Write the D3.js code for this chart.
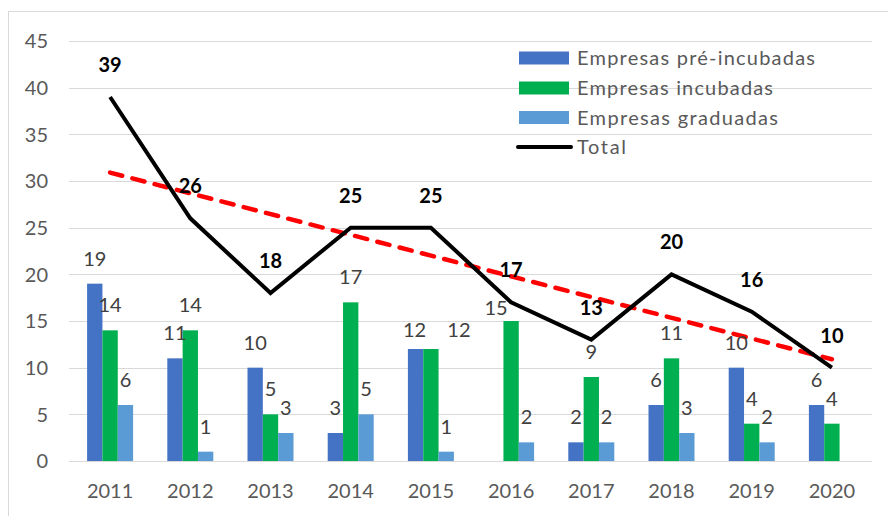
<!DOCTYPE html>
<html>
<head>
<meta charset="utf-8">
<script src="https://cdn.jsdelivr.net/npm/d3@7"></script>
<style>
  body { margin: 0; background: #fff; }
  text { font-family: Lato, "Open Sans", sans-serif; }
</style>
</head>
<body>
<svg id="chart" width="888" height="516"></svg>
<script>
// data
const years = ["2011", "2012", "2013", "2014", "2015", "2016", "2017", "2018", "2019", "2020"];
const preIncubadas = [19, 11, 10, 3, 12, 0, 2, 6, 10, 6];
const incubadas = [14, 14, 5, 17, 12, 15, 9, 11, 4, 4];
const graduadas = [6, 1, 3, 5, 1, 2, 2, 3, 2, 0];
const total = [39, 26, 18, 25, 25, 17, 13, 20, 16, 10];
// trend line end values (2011, 2020)
const trendYears = ["2011", "2020"];
const trendValues = [30.9, 10.9];
const yTicks = [0, 5, 10, 15, 20, 25, 30, 35, 40, 45];

const seriesNames = ["Empresas pré-incubadas", "Empresas incubadas", "Empresas graduadas"];
const seriesColors = ["#4472C4", "#00B050", "#5B9BD5"];
const seriesValues = [preIncubadas, incubadas, graduadas];

// a few labels were moved by hand in the original
const labelNudge = { "0-2015": [-1, 6], "1-2015": [28, 6], "1-2016": [-15, 12] };
const legendWidths = [238, 196, 201, 49];

const svg = d3.select("#chart");

// outer frame (runs off the right and bottom edges)
svg.append("rect")
  .attr("x", 8.5).attr("y", 11.5)
  .attr("width", 900).attr("height", 600)
  .attr("fill", "none")
  .attr("stroke", "#D9D9D9");

const x = d3.scaleBand().domain(years).range([70, 872]).padding(0);
const y = d3.scaleLinear().domain([0, 45]).range([461, 41]);
const groupW = 46;
const x1 = d3.scaleBand().domain(d3.range(3)).range([0, groupW]);
const cx = d => x(d) + x.bandwidth() / 2;

// gridlines
svg.append("g")
  .selectAll("line")
  .data(yTicks)
  .join("line")
  .attr("x1", 69).attr("x2", 872)
  .attr("y1", d => Math.round(y(d)) + 0.5)
  .attr("y2", d => Math.round(y(d)) + 0.5)
  .attr("stroke", "#D9D9D9")
  .attr("stroke-width", 1.2);

// y tick labels
svg.append("g")
  .selectAll("text")
  .data(yTicks)
  .join("text")
  .attr("x", 48)
  .attr("y", d => y(d))
  .attr("dy", "0.36em")
  .attr("text-anchor", "end")
  .attr("font-size", 20)
  .attr("fill", "#595959")
  .text(d => d);

// x labels
svg.append("g")
  .selectAll("text")
  .data(years)
  .join("text")
  .attr("x", d => cx(d))
  .attr("y", 498)
  .attr("text-anchor", "middle")
  .attr("font-size", 20)
  .attr("fill", "#595959")
  .text(d => d);

// bars
const barData = [];
seriesValues.forEach((vals, s) => {
  vals.forEach((v, i) => barData.push({ s, year: years[i], v }));
});

svg.append("g")
  .selectAll("rect")
  .data(barData.filter(d => d.v > 0))
  .join("rect")
  .attr("x", d => cx(d.year) - groupW / 2 + x1(d.s))
  .attr("y", d => y(d.v))
  .attr("width", x1.bandwidth())
  .attr("height", d => y(0) - y(d.v))
  .attr("fill", d => seriesColors[d.s]);

// trend line
svg.append("path")
  .datum(trendYears.map((t, i) => [cx(t), y(trendValues[i])]))
  .attr("d", d3.line())
  .attr("fill", "none")
  .attr("stroke", "#FF0000")
  .attr("stroke-width", 4.5)
  .attr("stroke-linecap", "round")
  .attr("stroke-dasharray", "12.5,10.5");

// total line
svg.append("path")
  .datum(years.map((t, i) => [cx(t), y(total[i])]))
  .attr("d", d3.line())
  .attr("fill", "none")
  .attr("stroke", "#000")
  .attr("stroke-width", 4);

// bar value labels
const nudge = d => labelNudge[d.s + "-" + d.year] || [0, 0];
svg.append("g")
  .selectAll("text")
  .data(barData.filter(d => d.v > 0))
  .join("text")
  .attr("x", d => cx(d.year) - groupW / 2 + x1(d.s) + x1.bandwidth() / 2 + nudge(d)[0])
  .attr("y", d => y(d.v) - 18 + nudge(d)[1])
  .attr("text-anchor", "middle")
  .attr("font-size", 20)
  .attr("fill", "#404040")
  .text(d => d.v);

// total labels
svg.append("g")
  .selectAll("text")
  .data(total)
  .join("text")
  .attr("x", (d, i) => cx(years[i]))
  .attr("y", d => y(d) - 25)
  .attr("text-anchor", "middle")
  .attr("font-size", 20)
  .attr("font-weight", "bold")
  .attr("fill", "#000")
  .text(d => d);

// legend
const legendRows = [58, 88, 117.5, 147];
const legend = svg.append("g");
seriesNames.forEach((name, s) => {
  legend.append("rect")
    .attr("x", 519).attr("y", legendRows[s] - 6.5)
    .attr("width", 50).attr("height", 13)
    .attr("fill", seriesColors[s]);
  legend.append("text")
    .attr("x", 577).attr("y", legendRows[s])
    .attr("dy", "0.36em")
    .attr("font-size", 20)
    .attr("fill", "#595959")
    .attr("textLength", legendWidths[s])
    .attr("lengthAdjust", "spacing")
    .text(name);
});
legend.append("line")
  .attr("x1", 518).attr("x2", 571)
  .attr("y1", legendRows[3]).attr("y2", legendRows[3])
  .attr("stroke", "#000")
  .attr("stroke-width", 4)
  .attr("stroke-linecap", "round");
legend.append("text")
  .attr("x", 577).attr("y", legendRows[3])
  .attr("dy", "0.36em")
  .attr("font-size", 20)
  .attr("fill", "#595959")
  .attr("textLength", legendWidths[3])
  .attr("lengthAdjust", "spacing")
  .text("Total");
</script>
</body>
</html>
